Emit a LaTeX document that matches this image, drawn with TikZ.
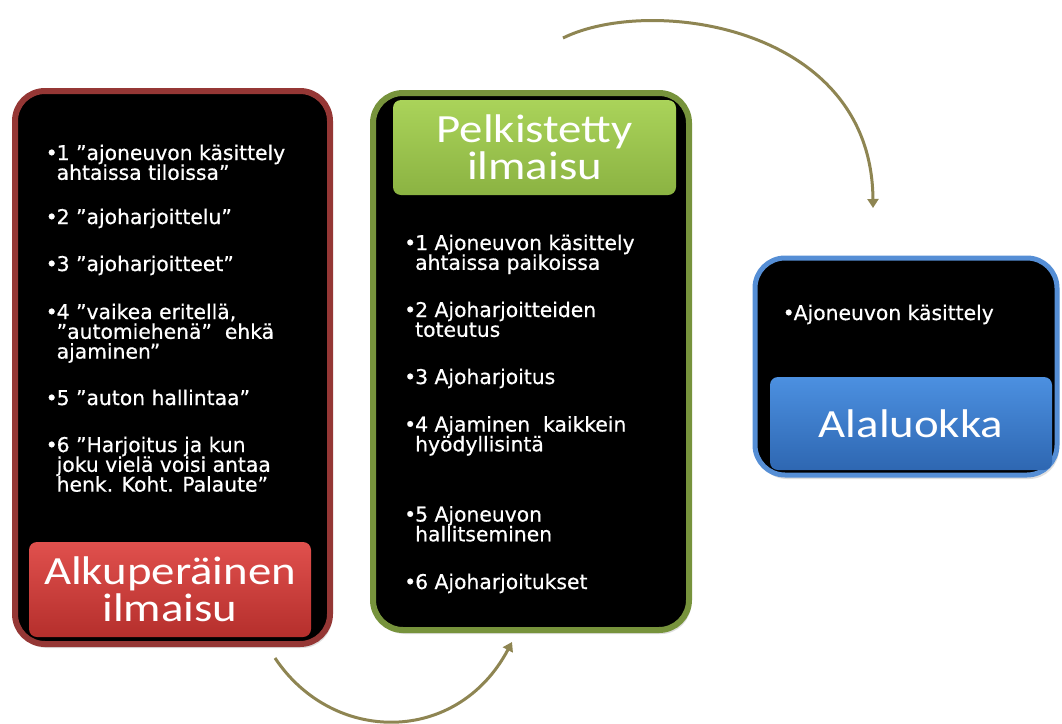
\documentclass[tikz,border=0pt]{standalone}
\usepackage{fontspec}
\newfontfamily\bodyfont[FakeBold=0.6]{DejaVu Sans}
\newfontfamily\labelfont[FakeStretch=1.17]{Carlito}
\usetikzlibrary{arrows.meta,shadows}
\definecolor{redborder}{HTML}{953735}
\definecolor{greenborder}{HTML}{77933C}
\definecolor{blueborder}{HTML}{558ED5}
\definecolor{redtop}{HTML}{E0504D}
\definecolor{redbot}{HTML}{B52F2C}
\definecolor{greentop}{HTML}{AAD35A}
\definecolor{greenbot}{HTML}{8BB342}
\definecolor{bluetop}{HTML}{4C90E0}
\definecolor{bluebot}{HTML}{2E67B2}
\definecolor{arrowcol}{HTML}{8E8552}
\newcommand\bul{\makebox[8.5pt][l]{\hspace*{-2.5pt}•}}
\newcommand\ind{\hspace*{8.5pt}}
\begin{document}
\begin{tikzpicture}[x=1pt,y=-1pt,
  outerbox/.style={rectangle, rounded corners=30pt, fill=black, line width=6pt,
    drop shadow={opacity=0.25, shadow xshift=2pt, shadow yshift=-4pt}},
  labelbox/.style={rectangle, rounded corners=8pt, align=center, text=white,
    font=\labelfont\fontsize{40}{36.5}\selectfont},
  item/.style={anchor=base west, inner sep=0pt, align=left, text=white,
    font=\bodyfont\fontsize{20.3}{19.8}\selectfont},
  flowarrow/.style={draw=arrowcol, line width=3pt, -{Triangle[width=11pt,length=9pt]}}]
\useasboundingbox (0,0) rectangle (1062,723);
\fill[white] (0,0) rectangle (1062,723);

% outer boxes
\node[outerbox, draw=redborder, minimum width=315pt, minimum height=553pt] (redbox) at (172.5,367.5) {};
\node[outerbox, draw=greenborder, minimum width=316pt, minimum height=537pt] (greenbox) at (531,361.5) {};
\node[outerbox, draw=blueborder, line width=5pt, minimum width=302pt, minimum height=217pt] (bluebox) at (906,366.5) {};

% label boxes
\node[labelbox, top color=redtop, bottom color=redbot, minimum width=282pt, minimum height=95pt] (redlabel) at (170,589.5) {Alkuperäinen\\ilmaisu};
\node[labelbox, top color=greentop, bottom color=greenbot, minimum width=283pt, minimum height=95pt] (greenlabel) at (534.5,147.5) {Pelkistetty\\ilmaisu};
\node[labelbox, top color=bluetop, bottom color=bluebot, minimum width=282pt, minimum height=93pt] (bluelabel) at (911,423.5) {Alaluokka};

% left items (anchor = baseline of last line)
\node[item] (l1) at (48,179.8) {\bul1 ”ajoneuvon käsittely\\\ind ahtaissa tiloissa”};
\node[item] (l2) at (48,224) {\bul2 ”ajoharjoittelu”};
\node[item] (l3) at (48,271) {\bul3 ”ajoharjoitteet”};
\node[item] (l4) at (48,358.6) {\bul4 ”vaikea eritellä,\\\ind ”automiehenä”\ \ ehkä\\\ind ajaminen”};
\node[item] (l5) at (48,405) {\bul5 ”auton hallintaa”};
\node[item] (l6) at (48,491.6) {\bul6 ”Harjoitus ja kun\\\ind joku vielä voisi antaa\\\ind henk. Koht. Palaute”};

% middle items
\node[item] (g1) at (406.5,269.8) {\bul1 Ajoneuvon käsittely\\\ind ahtaissa paikoissa};
\node[item] (g2) at (406.5,336.8) {\bul2 Ajoharjoitteiden\\\ind toteutus};
\node[item] (g3) at (406.5,384) {\bul3 Ajoharjoitus};
\node[item] (g4) at (406.5,451.3) {\bul4 Ajaminen\ \ kaikkein\\\ind hyödyllisintä};
\node[item] (g5) at (406.5,541.3) {\bul5 Ajoneuvon\\\ind hallitseminen};
\node[item] (g6) at (406.5,589) {\bul6 Ajoharjoitukset};

% right item
\node[item] (b1) at (785,320) {\bul Ajoneuvon käsittely};

% arrows
\coordinate (a1s) at (275,658);
\coordinate (a1e) at (512,642);
\draw[flowarrow] (a1s) .. controls (333,745) and (457.5,745) .. (a1e);
\coordinate (a2s) at (563,38);
\coordinate (a2e) at (873,208);
\draw[flowarrow] (a2s) .. controls (650,-5) and (872,25) .. (a2e);
\end{tikzpicture}
\end{document}
